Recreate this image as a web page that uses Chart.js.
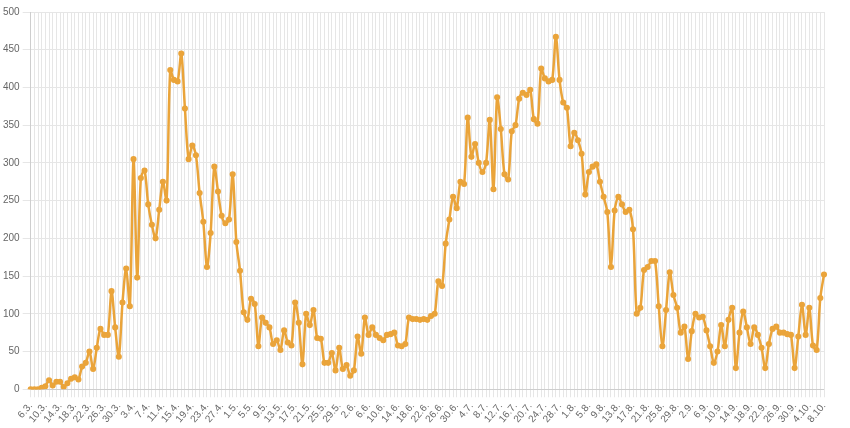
<!DOCTYPE html>
<html>
<head>
<meta charset="utf-8">
<script src="https://cdn.jsdelivr.net/npm/chart.js@4"></script>
<style>
  body { margin: 0; background: #fff; }
  .wrap { width: 850px; height: 428px; }
</style>
</head>
<body>
<div class="wrap"><canvas id="myChart"></canvas></div>
<script>
// daily values 6.3. - 8.10.
const values = [
  0, 0, 0, 2, 4, 12, 5, 10, 10, 3,
  8, 14, 16, 13, 30, 35, 50, 27, 55, 80,
  72, 72, 130, 82, 43, 115, 160, 110, 305, 148,
  280, 290, 245, 218, 200, 238, 275, 250, 423, 410,
  408, 445, 372, 305, 323, 310, 260, 222, 162, 207,
  295, 262, 230, 220, 225, 285, 195, 157, 102, 92,
  120, 113, 57, 95, 88, 82, 60, 65, 52, 78,
  62, 58, 115, 88, 33, 100, 85, 105, 68, 67,
  35, 35, 48, 25, 55, 27, 32, 18, 25, 70,
  47, 95, 72, 82, 72, 68, 65, 72, 73, 75,
  58, 57, 60, 95, 93, 93, 92, 93, 92, 97,
  100, 143, 137, 193, 225, 255, 240, 275, 272, 360,
  308, 325, 300, 288, 300, 357, 265, 387, 345, 285,
  278, 342, 350, 385, 393, 390, 397, 358, 352, 425,
  412, 408, 410, 467, 410, 380, 373, 322, 340, 330,
  312, 258, 288, 295, 298, 275, 255, 235, 162, 237,
  255, 245, 235, 238, 212, 100, 108, 158, 162, 170,
  170, 110, 57, 105, 155, 125, 108, 75, 83, 40,
  77, 100, 95, 96, 78, 57, 35, 50, 85, 57, 92, 108,
  28, 75, 103, 82, 60, 82, 72, 55,
  28, 60, 80, 83, 75, 75, 73, 72,
  28, 70, 112, 72, 108, 58, 52, 121, 152
];

// labels "d.m."
const labels = [];
const start = new Date(2020, 2, 6);
for (let i = 0; i < values.length; i++) {
  const d = new Date(start.getFullYear(), start.getMonth(), start.getDate() + i);
  labels.push(d.getDate() + "." + (d.getMonth() + 1) + ".");
}

const couleur = "rgb(234,164,58)";

const config = {
  type: "line",
  data: {
    labels: labels,
    datasets: [{
      data: values,
      borderColor: couleur,
      backgroundColor: couleur,
      borderWidth: 2.5,
      pointRadius: 1.8,
      pointHoverRadius: 3,
      tension: 0.3,
    }],
  },
  options: {
    responsive: true,
    maintainAspectRatio: false,
    animation: false,
    plugins: { legend: { display: false }, tooltip: { enabled: false } },
    layout: { padding: { right: 26, top: 12 } },
    scales: {
      x: {
        grid: { color: "#e6e6e6" },
        ticks: {
          autoSkip: false,
          maxRotation: 50,
          minRotation: 50,
          color: "#666",
          font: { size: 10, family: "Arial, 'Liberation Sans'" },
          callback: function (val, index) {
            return index % 4 === 0 ? labels[index] : "";
          },
        },
      },
      y: {
        min: 0,
        max: 500,
        grid: { color: "#e6e6e6" },
        ticks: {
          stepSize: 50,
          color: "#666",
          font: { size: 10, family: "Arial, 'Liberation Sans'" },
        },
      },
    },
  },
};

const myChart = new Chart(document.getElementById("myChart"), config);
</script>
</body>
</html>
